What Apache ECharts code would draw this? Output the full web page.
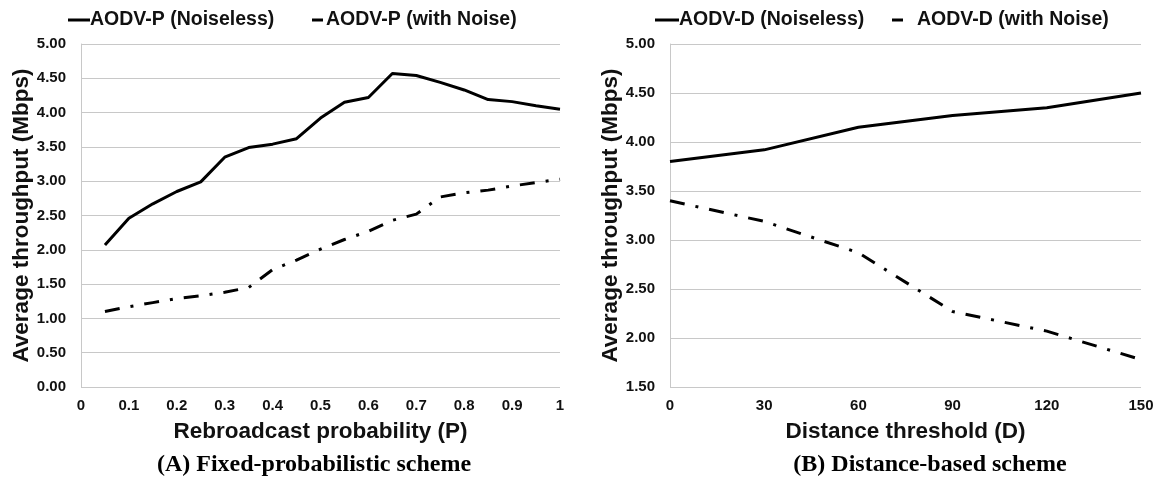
<!DOCTYPE html>
<html>
<head>
<meta charset="utf-8">
<script src="https://cdn.jsdelivr.net/npm/echarts@6/dist/echarts.min.js"></script>
<style>
  html, body { margin: 0; padding: 0; background: #fff; }
  #chart { width: 1160px; height: 482px; }
</style>
</head>
<body>
<div id="chart"></div>
<script>
// Panel A: fixed-probabilistic scheme
const pValues = [0.05, 0.1, 0.15, 0.2, 0.25, 0.3, 0.35, 0.4, 0.45, 0.5,
                 0.55, 0.6, 0.65, 0.7, 0.75, 0.8, 0.85, 0.9, 0.95, 1];
const aodvPNoiseless = [2.07, 2.46, 2.67, 2.85, 2.99, 3.35, 3.49, 3.54, 3.62, 3.92,
                        4.15, 4.22, 4.57, 4.54, 4.44, 4.33, 4.19, 4.16, 4.10, 4.05];
const aodvPNoise = [1.10, 1.17, 1.23, 1.29, 1.33, 1.38, 1.45, 1.71, 1.85, 2.01,
                    2.15, 2.27, 2.43, 2.52, 2.77, 2.83, 2.87, 2.93, 2.98, 3.03];

// Panel B: distance-based scheme
const dValues = [0, 30, 60, 90, 120, 150];
const aodvDNoiseless = [3.80, 3.92, 4.15, 4.27, 4.35, 4.50];
const aodvDNoise = [3.40, 3.19, 2.87, 2.27, 2.07, 1.78];

const captions = ['(A) Fixed-probabilistic scheme', '(B) Distance-based scheme'];

const chart = echarts.init(document.getElementById('chart'));

const sansBold = { fontFamily: 'Liberation Sans, Arial, sans-serif', fontWeight: 'bold', color: '#111' };
const serifBold = { fontFamily: 'Liberation Serif, Times New Roman, serif', fontWeight: 'bold', fontSize: 24, color: '#000' };
const dashDot = [15, 11, 3, 11];

function pairs(xs, ys) {
    return xs.map((x, i) => [x, ys[i]]);
}

function makeXAxis(gridIndex, min, max, interval, name, fmt) {
    return {
        type: 'value', gridIndex, min, max, interval,
        name, nameLocation: 'middle', nameGap: 33,
        nameTextStyle: Object.assign({ fontSize: 22.5 }, sansBold),
        axisLine: { show: false },
        axisTick: { show: false },
        splitLine: { show: false },
        axisLabel: Object.assign({ fontSize: 15, margin: 11, formatter: fmt }, sansBold)
    };
}

function makeYAxis(gridIndex, min, max) {
    return {
        type: 'value', gridIndex, min, max, interval: 0.5,
        name: 'Average throughput (Mbps)', nameLocation: 'middle', nameGap: 45,
        nameTextStyle: Object.assign({ fontSize: 22.5 }, sansBold),
        axisLine: { show: true, lineStyle: { color: '#c8c8c8', width: 1 } },
        axisTick: { show: false },
        splitLine: { show: true, lineStyle: { color: '#c8c8c8', width: 1 } },
        axisLabel: Object.assign({ fontSize: 15, margin: 15, formatter: v => v.toFixed(2) }, sansBold)
    };
}

function lineSeries(name, idx, data, dashed) {
    return {
        name, type: 'line', xAxisIndex: idx, yAxisIndex: idx,
        data, symbol: 'none', smooth: false,
        lineStyle: { color: '#000', width: 3, type: dashed ? dashDot : 'solid', cap: 'butt' },
        itemStyle: { color: '#000' }
    };
}

function legendItem(name, left, width, textShift) {
    return {
        data: [name], left, top: 5,
        icon: 'rect', itemWidth: width, itemHeight: 3,
        itemStyle: { color: '#000' },
        textStyle: Object.assign({ fontSize: 19.5, padding: [0, 0, 0, textShift] }, sansBold)
    };
}

const option = {
    animation: false,
    backgroundColor: '#fff',
    title: [
        { text: captions[0], left: 309, top: 448, textAlign: 'center', textStyle: serifBold },
        { text: captions[1], left: 925, top: 448, textAlign: 'center', textStyle: serifBold }
    ],
    legend: [
        legendItem('AODV-P (Noiseless)', 63, 22, -5),
        legendItem('AODV-P (with Noise)', 307, 11, -2),
        legendItem('AODV-D (Noiseless)', 650, 24, -5),
        legendItem('AODV-D (with Noise)', 887, 11, 9)
    ],
    grid: [
        { left: 81, right: 600, top: 44, bottom: 95 },
        { left: 670, right: 19, top: 44, bottom: 95 }
    ],
    xAxis: [
        makeXAxis(0, 0, 1, 0.1, 'Rebroadcast probability (P)', v => (v === 0 || v === 1) ? String(v) : v.toFixed(1)),
        makeXAxis(1, 0, 150, 30, 'Distance threshold (D)', v => String(v))
    ],
    yAxis: [
        makeYAxis(0, 0, 5),
        makeYAxis(1, 1.5, 5)
    ],
    series: [
        lineSeries('AODV-P (Noiseless)', 0, pairs(pValues, aodvPNoiseless), false),
        lineSeries('AODV-P (with Noise)', 0, pairs(pValues, aodvPNoise), true),
        lineSeries('AODV-D (Noiseless)', 1, pairs(dValues, aodvDNoiseless), false),
        lineSeries('AODV-D (with Noise)', 1, pairs(dValues, aodvDNoise), true)
    ]
};

chart.setOption(option);
</script>
</body>
</html>
